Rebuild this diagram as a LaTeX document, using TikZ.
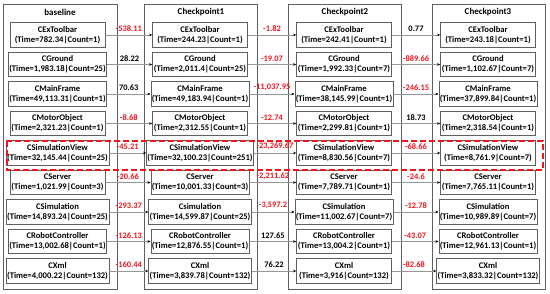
\documentclass[tikz,border=0pt]{standalone}
\usepackage{fontspec}
\setmainfont{Carlito}
\usepackage{xcolor}
\usetikzlibrary{arrows.meta, positioning}
\definecolor{diff-red}{RGB}{240,20,30}
\definecolor{frame-gray}{RGB}{95,95,95}
\definecolor{link-gray}{RGB}{150,150,150}

\begin{document}
\begin{tikzpicture}[x=1pt, y=-1pt,
  func/.style={draw=frame-gray, line width=0.6pt, align=center, font=\fontsize{8.6}{10}\selectfont\bfseries, minimum width=95pt, minimum height=24.5pt, inner xsep=1pt, inner ysep=0.5pt},
  head/.style={font=\fontsize{9}{10}\selectfont\bfseries},
  link/.style={draw=link-gray, line width=0.5pt, -{Stealth[length=3pt, width=2.6pt, black]}},
  gain/.style={above=-0.5pt, font=\fontsize{8.4}{9}\selectfont\bfseries, text=black},
  loss/.style={gain, text=diff-red}]
  \useasboundingbox (0,0) rectangle (550,294);

  % Column frames
  \draw[frame-gray, line width=0.6pt] (3,4) rectangle (117,289);
  \node[head] (hbase) at (60,12) {baseline};
  \draw[frame-gray, line width=0.6pt] (144,4) rectangle (257,289);
  \node[head] (hcp1) at (201,12) {Checkpoint1};
  \draw[frame-gray, line width=0.6pt] (288,4) rectangle (401,289);
  \node[head] (hcp2) at (345,12) {Checkpoint2};
  \draw[frame-gray, line width=0.6pt] (432,4) rectangle (545,289);
  \node[head] (hcp3) at (488,12) {Checkpoint3};

  % baseline
  \node[func] (b1) at (57.5,35) {CExToolbar\\(Time=782.34|Count=1)};
  \node[func] (b2) at (57.5,64.5) {CGround\\(Time=1,983.18|Count=25)};
  \node[func] (b3) at (57.5,94) {CMainFrame\\(Time=49,113.31|Count=1)};
  \node[func] (b4) at (57.5,123.5) {CMotorObject\\(Time=2,321.23|Count=1)};
  \node[func] (b5) at (57.5,153) {CSimulationView\\(Time=32,145.44|Count=25)};
  \node[func] (b6) at (57.5,182.5) {CServer\\(Time=1,021.99|Count=3)};
  \node[func] (b7) at (57.5,212) {CSimulation\\(Time=14,893.24|Count=25)};
  \node[func] (b8) at (57.5,241.5) {CRobotController\\(Time=13,002.68|Count=1)};
  \node[func] (b9) at (57.5,271) {CXml\\(Time=4,000.22|Count=132)};

  % Checkpoint1
  \node[func] (c1) at (200,35) {CExToolbar\\(Time=244.23|Count=1)};
  \node[func] (c2) at (200,64.5) {CGround\\(Time=2,011.4|Count=25)};
  \node[func] (c3) at (200,94) {CMainFrame\\(Time=49,183.94|Count=1)};
  \node[func] (c4) at (200,123.5) {CMotorObject\\(Time=2,312.55|Count=1)};
  \node[func] (c5) at (200,153) {CSimulationView\\(Time=32,100.23|Count=251)};
  \node[func] (c6) at (200,182.5) {CServer\\(Time=10,001.33|Count=3)};
  \node[func] (c7) at (200,212) {Csimulation\\(Time=14,599.87|Count=25)};
  \node[func] (c8) at (200,241.5) {CRobotController\\(Time=12,876.55|Count=1)};
  \node[func] (c9) at (200,271) {CXml\\(Time=3,839.78|Count=132)};

  % Checkpoint2
  \node[func] (d1) at (344,35) {CExToolbar\\(Time=242.41|Count=1)};
  \node[func] (d2) at (344,64.5) {CGround\\(Time=1,992.33|Count=7)};
  \node[func] (d3) at (344,94) {CMainFrame\\(Time=38,145.99|Count=1)};
  \node[func] (d4) at (344,123.5) {CMotorObject\\(Time=2,299.81|Count=1)};
  \node[func] (d5) at (344,153) {CSimulationView\\(Time=8,830.56|Count=7)};
  \node[func] (d6) at (344,182.5) {CServer\\(Time=7,789.71|Count=1)};
  \node[func] (d7) at (344,212) {CSimulation\\(Time=11,002.67|Count=7)};
  \node[func] (d8) at (344,241.5) {CRobotController\\(Time=13,004.2|Count=1)};
  \node[func] (d9) at (344,271) {CXml\\(Time=3,916|Count=132)};

  % Checkpoint3
  \node[func] (e1) at (488,35) {CExToolbar\\(Time=243.18|Count=1)};
  \node[func] (e2) at (488,64.5) {CGround\\(Time=1,102.67|Count=7)};
  \node[func] (e3) at (488,94) {CMainFrame\\(Time=37,899.84|Count=1)};
  \node[func] (e4) at (488,123.5) {CMotorObject\\(Time=2,318.54|Count=1)};
  \node[func] (e5) at (488,153) {CSimulationView\\(Time=8,761.9|Count=7)};
  \node[func] (e6) at (488,182.5) {CServer\\(Time=7,765.11|Count=1)};
  \node[func] (e7) at (488,212) {CSimulation\\(Time=10,989.89|Count=7)};
  \node[func] (e8) at (488,241.5) {CRobotController\\(Time=12,961.13|Count=1)};
  \node[func] (e9) at (488,271) {CXml\\(Time=3,833.32|Count=132)};

  % baseline -> Checkpoint1
  \draw[link] (b1.east) -- node[loss] {-538.11} (c1.west);
  \draw[link] (b2.east) -- node[gain] {28.22} (c2.west);
  \draw[link] (b3.east) -- node[gain] {70.63} (c3.west);
  \draw[link] (b4.east) -- node[loss] {-8.68} (c4.west);
  \draw[link] (b5.east) -- node[loss] {-45.21} (c5.west);
  \draw[link] (b6.east) -- node[loss] {-20.66} (c6.west);
  \draw[link] (b7.east) -- node[loss] {-293.37} (c7.west);
  \draw[link] (b8.east) -- node[loss] {-126.13} (c8.west);
  \draw[link] (b9.east) -- node[loss] {-160.44} (c9.west);

  % Checkpoint1 -> Checkpoint2
  \draw[link] (c1.east) -- node[loss] {-1.82} (d1.west);
  \draw[link] (c2.east) -- node[loss] {-19.07} (d2.west);
  \draw[link] (c3.east) -- node[loss] {-11,037.95} (d3.west);
  \draw[link] (c4.east) -- node[loss] {-12.74} (d4.west);
  \draw[link] (c5.east) -- node[loss] {-23,269.67} (d5.west);
  \draw[link] (c6.east) -- node[loss] {-2,211.62} (d6.west);
  \draw[link] (c7.east) -- node[loss] {-3,597.2} (d7.west);
  \draw[link] (c8.east) -- node[gain] {127.65} (d8.west);
  \draw[link] (c9.east) -- node[gain] {76.22} (d9.west);

  % Checkpoint2 -> Checkpoint3
  \draw[link] (d1.east) -- node[gain] {0.77} (e1.west);
  \draw[link] (d2.east) -- node[loss] {-889.66} (e2.west);
  \draw[link] (d3.east) -- node[loss] {-246.15} (e3.west);
  \draw[link] (d4.east) -- node[gain] {18.73} (e4.west);
  \draw[link] (d5.east) -- node[loss] {-68.66} (e5.west);
  \draw[link] (d6.east) -- node[loss] {-24.6} (e6.west);
  \draw[link] (d7.east) -- node[loss] {-12.78} (e7.west);
  \draw[link] (d8.east) -- node[loss] {-43.07} (e8.west);
  \draw[link] (d9.east) -- node[loss] {-82.68} (e9.west);

  % Highlighted row
  \draw[diff-red, line width=1.6pt, dash pattern=on 6pt off 3pt] (7,141) rectangle (543,170);
\end{tikzpicture}
\end{document}
